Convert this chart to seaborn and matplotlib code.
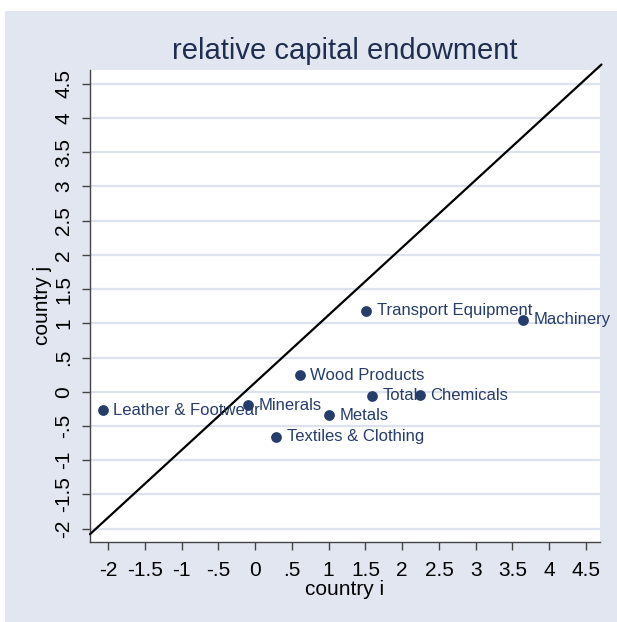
import matplotlib
matplotlib.use("Agg")
import matplotlib.pyplot as plt
from matplotlib.patches import Rectangle
import seaborn as sns
import pandas as pd

# ---- data ----
sectors = ["Leather & Footwear", "Minerals", "Textiles & Clothing", "Wood Products",
           "Metals", "Total", "Chemicals", "Transport Equipment", "Machinery"]
country_i = [-2.07, -0.10, 0.29, 0.61, 1.01, 1.595, 2.24, 1.51, 3.64]
country_j = [-0.27, -0.20, -0.66, 0.24, -0.34, -0.06, -0.05, 1.18, 1.05]
line_x = [-2.245, 4.71]
line_y = [-2.08, 4.78]
x_ticks = [-2, -1.5, -1, -0.5, 0, 0.5, 1, 1.5, 2, 2.5, 3, 3.5, 4, 4.5]
y_ticks = [-2, -1.5, -1, -0.5, 0, 0.5, 1, 1.5, 2, 2.5, 3, 3.5, 4, 4.5]
tick_labels = ["-2", "-1.5", "-1", "-.5", "0", ".5", "1", "1.5", "2", "2.5", "3", "3.5", "4", "4.5"]

df = pd.DataFrame({"sector": sectors, "i": country_i, "j": country_j})

sns.set_theme(style="white")
plt.rcParams["font.family"] = ["Liberation Sans", "DejaVu Sans"]

BG = "#E1E6F0"
GRID = "#DDE3EE"
NAVY = "#263C6B"
TITLE = "#1F2D4E"

fig = plt.figure(figsize=(6.17, 6.22), dpi=100)
fig.patch.set_facecolor("white")
fig.patches.append(Rectangle((5 / 617, 0), 1 - 5 / 617, 1 - 11 / 622,
                             transform=fig.transFigure, facecolor=BG,
                             edgecolor="none", zorder=-10))

ax = fig.add_axes([90 / 617, 1 - 541.7 / 622, (600 - 90) / 617, (541.7 - 70) / 622])
ax.set_facecolor("white")

sns.lineplot(x=line_x, y=line_y, ax=ax, color="black", linewidth=1.6, clip_on=False, zorder=3)
sns.scatterplot(data=df, x="i", y="j", ax=ax, color=NAVY, s=60, edgecolor=NAVY,
                linewidth=0, zorder=4)
for s, xv, yv in zip(sectors, country_i, country_j):
    ax.annotate(s, (xv, yv), xytext=(7.5, 0), textcoords="offset points",
                ha="left", va="center", fontsize=12, color=NAVY, zorder=5)

ax.set_xlim(-2.245, 4.69)
ax.set_ylim(-2.19, 4.70)
ax.set_xticks(x_ticks)
ax.set_xticklabels(tick_labels)
ax.set_yticks(y_ticks)
ax.set_yticklabels(tick_labels, rotation=90, va="center")
ax.grid(axis="y", color=GRID, linewidth=1.6)
ax.grid(axis="x", visible=False)
ax.set_axisbelow(True)

for side in ["top", "right"]:
    ax.spines[side].set_visible(False)
for side in ["left", "bottom"]:
    ax.spines[side].set_color("#444444")
    ax.spines[side].set_linewidth(1.0)

ax.tick_params(axis="both", which="major", direction="out", length=6, width=1.0,
               color="#444444", labelsize=15, labelcolor="black",
               left=True, bottom=True)
ax.tick_params(axis="x", pad=8)
ax.tick_params(axis="y", pad=6)

ax.set_xlabel("country i", fontsize=15, color="black", labelpad=0)
ax.set_ylabel("country j", fontsize=15, color="black", labelpad=2)
ax.set_title("relative capital endowment", fontsize=21, color=TITLE, pad=8)

fig.savefig("out.png", dpi=100, facecolor=fig.get_facecolor())
